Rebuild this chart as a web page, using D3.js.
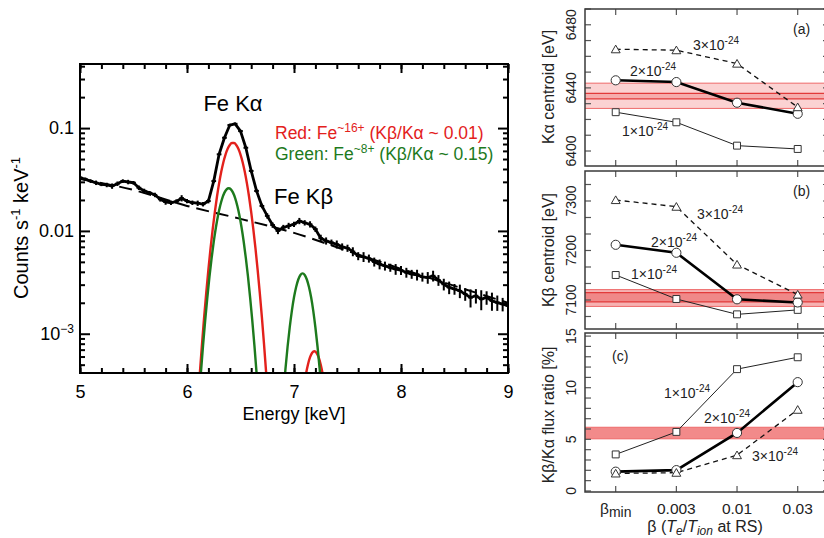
<!DOCTYPE html>
<html><head><meta charset="utf-8">
<script src="https://cdn.jsdelivr.net/npm/d3@7"></script>
<style>body{margin:0;background:#fff} svg{display:block} text{font-family:"Liberation Sans",Arial,Helvetica,sans-serif}</style>
</head><body><svg id="c" width="824" height="538"></svg>
<script>
// ---------- data: spectrum (left panel) ----------
const specE = [5.00,5.05,5.10,5.15,5.20,5.25,5.30,5.35,5.40,5.45,5.50,5.55,5.60,5.65,5.70,5.75,5.80,5.85,5.90,5.95,
  6.00,6.05,6.10,6.15,6.20,6.25,6.30,6.35,6.40,6.45,6.50,6.55,6.60,6.65,6.70,6.75,6.80,6.85,6.90,6.95,
  7.00,7.05,7.10,7.15,7.20,7.25,7.30,7.35,7.40,7.45,7.50,7.55,7.60,7.65,7.70,7.75,7.80,7.85,7.90,7.95,
  8.00,8.05,8.10,8.15,8.20,8.25,8.30,8.35,8.40,8.45,8.50,8.55,8.60,8.65,8.70,8.75,8.80,8.85,8.90,8.95,9.00];
const specVal = [0.0330,0.0318,0.0305,0.0294,0.0284,0.0280,0.0273,0.0288,0.0305,0.0299,0.0294,0.0263,0.0245,0.0235,0.0224,0.0203,0.0191,0.0188,0.0193,0.0208,
  0.0195,0.0188,0.0186,0.0182,0.0195,0.0305,0.0556,0.0805,0.107,0.110,0.0935,0.0644,0.0383,0.0245,0.0175,0.0140,0.0114,0.0100,0.0108,0.0112,
  0.0116,0.0125,0.0120,0.0116,0.0104,0.0085,0.0080,0.0077,0.0074,0.0070,0.0068,0.0063,0.0057,0.0056,0.0054,0.0050,0.00475,0.00457,0.00440,0.00425,
  0.00415,0.00394,0.00380,0.00374,0.00357,0.00352,0.00366,0.00332,0.00303,0.00282,0.00272,0.00261,0.00243,0.00225,0.00234,0.00217,0.00225,0.00209,0.00201,0.00194,0.00187];
const specErr = [0.05,0.04,0.04,0.05,0.04,0.05,0.06,0.05,0.04,0.05,0.04,0.05,0.05,0.04,0.05,0.05,0.06,0.05,0.05,0.07,0.05,0.05,0.06,0.05,0.05,
  0.04,0.03,0.03,0.03,0.03,0.03,0.03,0.04,0.04,0.05,0.06,0.06,
  0.07,0.06,0.07,0.06,0.07,0.06,0.07,0.06,0.08,0.08,0.07,0.09,0.08,0.08,
  0.10,0.09,0.11,0.09,0.10,0.11,0.10,0.09,0.12,0.10,0.11,0.10,0.12,0.10,0.13,0.12,
  0.12,0.13,0.14,0.12,0.15,0.14,0.20,0.16,0.22,0.15,0.20,0.17,0.15,0.16];
const contE = [5.0,5.5,6.0,6.5,7.0,7.5,8.0,8.5,9.0];
const contVal = [0.0320,0.0250,0.0175,0.0131,0.00957,0.00640,0.00428,0.00292,0.00200];
const redKaE = [6.10,6.12,6.14,6.16,6.18,6.20,6.22,6.24,6.26,6.28,6.30,6.32,6.34,6.36,6.38,6.40,6.42,6.44,6.46,6.48,6.50,6.52,6.54,6.56,6.58,6.60,6.62,6.64,6.66,6.68,6.70,6.72,6.74,6.76];
const redKaVal = [2.08e-4,4.14e-4,7.88e-4,1.44e-3,2.51e-3,4.21e-3,6.75e-3,0.01036,0.01525,0.0215,0.0290,0.0376,0.0466,0.0553,0.0629,0.0686,0.0716,
  0.0716,0.0686,0.0629,0.0553,0.0466,0.0376,0.0290,0.0215,0.01525,0.01036,6.75e-3,4.21e-3,2.51e-3,1.44e-3,7.88e-4,4.14e-4,2.08e-4];
const greenKaE = [6.09,6.11,6.13,6.15,6.17,6.19,6.21,6.23,6.25,6.27,6.29,6.31,6.33,6.35,6.37,6.39,6.41,6.43,6.45,6.47,6.49,6.51,6.53,6.55,6.57,6.59,6.61,6.63,6.65,6.67,6.69];
const greenKaVal = [1.06e-4,2.15e-4,4.17e-4,7.69e-4,1.35e-3,2.25e-3,3.59e-3,5.43e-3,7.85e-3,0.01078,0.01411,0.01758,0.02087,0.02358,0.02537,0.0260,
  0.02537,0.02358,0.02087,0.01758,0.01411,0.01078,7.85e-3,5.43e-3,3.59e-3,2.25e-3,1.35e-3,7.69e-4,4.17e-4,2.15e-4,1.06e-4];
const greenKbE = [6.88,6.90,6.92,6.94,6.96,6.98,7.00,7.02,7.04,7.06,7.08,7.10,7.12,7.14,7.16,7.18,7.20,7.22,7.24,7.26,7.28];
const greenKbVal = [1.35e-4,2.56e-4,4.52e-4,7.47e-4,1.15e-3,1.67e-3,2.26e-3,2.85e-3,3.37e-3,3.73e-3,3.86e-3,3.73e-3,3.37e-3,2.85e-3,2.26e-3,1.67e-3,1.15e-3,7.47e-4,4.52e-4,2.56e-4,1.35e-4];
const redKbE = [7.07,7.09,7.11,7.13,7.15,7.17,7.19,7.21,7.23,7.25,7.27,7.29,7.31];
const redKbVal = [2.02e-4,2.93e-4,3.96e-4,5.00e-4,5.91e-4,6.54e-4,6.76e-4,6.54e-4,5.91e-4,5.00e-4,3.96e-4,2.93e-4,2.02e-4];
const xTickLabels = [5,6,7,8,9];
const yTickLabels = [1e-3,1e-2,1e-1];

// ---------- data: right panels ----------
const betaCats = ["βmin","0.003","0.01","0.03"];
const seriesNames = ["1×10-24","2×10-24","3×10-24"];
const kaCent1 = [6424.6,6418.2,6403.4,6401.3];
const kaCent2 = [6444.8,6443.7,6430.6,6423.6];
const kaCent3 = [6464.5,6463.9,6455.4,6427.8];
const kaBandOuter = [6427,6443];
const kaBandInner = [6433,6436.5];
const kbCent1 = [7150.5,7102,7071,7080];
const kbCent2 = [7211.5,7195.4,7101.4,7095];
const kbCent3 = [7302,7288.5,7171.7,7111];
const kbBandOuter = [7087,7121];
const kbBandInner = [7096,7115];
const ratio1 = [3.54,5.72,11.8,12.95];
const ratio2 = [1.87,2.02,5.62,10.54];
const ratio3 = [1.70,1.77,3.47,7.87];
const ratioBand = [5.05,6.17];
const kaTicks = [6400,6440,6480];
const kbTicks = [7100,7200,7300];
const ratioTicks = [0,5,10,15];

const svg = d3.select("#c");
const FONT = '"Liberation Sans",Arial,Helvetica,sans-serif';

// ================= LEFT PANEL =================
const L = {x0:80,x1:508,y0:64,y1:373};
const x = d3.scaleLinear().domain([5,9]).range([L.x0,L.x1]);
const y = d3.scaleLog().domain([4.15e-4,0.42]).range([L.y1,L.y0]);
svg.append("clipPath").attr("id","clipL").append("rect")
  .attr("x",L.x0).attr("y",L.y0).attr("width",L.x1-L.x0).attr("height",L.y1-L.y0);
const gL = svg.append("g").attr("clip-path","url(#clipL)");
const line = d3.line().x(d=>x(d[0])).y(d=>y(d[1]));

const spec = specE.map((e,i)=>[e,specVal[i],specErr[i]]);
// dashed continuum
gL.append("path").datum(contE.map((e,i)=>[e,contVal[i]])).attr("d",line.curve(d3.curveMonotoneX))
  .attr("fill","none").attr("stroke","#000").attr("stroke-width",2).attr("stroke-dasharray","13,7");
line.curve(d3.curveLinear);
// data
gL.append("path").datum(spec).attr("d",line).attr("fill","none").attr("stroke","#000").attr("stroke-width",2.8).attr("stroke-linejoin","round");
gL.selectAll("line.eb").data(spec).join("line").attr("class","eb")
  .attr("x1",d=>x(d[0])).attr("x2",d=>x(d[0]))
  .attr("y1",d=>y(d[1]*(1+d[2]))).attr("y2",d=>y(d[1]*(1-d[2])))
  .attr("stroke","#000").attr("stroke-width",2);
gL.selectAll("line.hb").data(spec).join("line").attr("class","hb")
  .attr("x1",d=>x(d[0]-0.022)).attr("x2",d=>x(d[0]+0.022))
  .attr("y1",d=>y(d[1])).attr("y2",d=>y(d[1]))
  .attr("stroke","#000").attr("stroke-width",2);
// model lines
const RED = "#e3211c", GREEN = "#1d7a1d";
[[redKaE,redKaVal,RED],[redKbE,redKbVal,RED],[greenKaE,greenKaVal,GREEN],[greenKbE,greenKbVal,GREEN]].forEach(([E,V,c])=>{
  gL.append("path").datum(E.map((e,i)=>[e,V[i]])).attr("d",line.curve(d3.curveMonotoneX))
    .attr("fill","none").attr("stroke",c).attr("stroke-width",2.4);
});

// ticks
function styleAxis(g, sw, fs){
  g.select(".domain").remove();
  g.selectAll(".tick line").attr("stroke","#000").attr("stroke-width",sw);
  g.attr("font-family",FONT).attr("font-size",fs);
  g.selectAll(".tick text").attr("fill","#000");
}
const xMinor = d3.range(0,21).map(i=>5+i*0.2);
const yMinor = [];
[1e-4,1e-3,1e-2,1e-1].forEach(d=>{for(let k=2;k<=9;k++){const v=k*d; if(v>4.15e-4 && v<0.42) yMinor.push(v);}});
const gxb = svg.append("g").attr("transform",`translate(0,${L.y1})`);
gxb.call(d3.axisBottom(x).tickValues(xMinor).tickSize(-5).tickFormat(""));
styleAxis(gxb,2,18);
const gxb2 = svg.append("g").attr("transform",`translate(0,${L.y1})`);
gxb2.call(d3.axisBottom(x).tickValues(xTickLabels).tickSize(-9).tickPadding(12).tickFormat(d3.format("d")));
styleAxis(gxb2,2,18);
const gxt = svg.append("g").attr("transform",`translate(0,${L.y0})`);
gxt.call(d3.axisTop(x).tickValues(xMinor).tickSize(-5).tickFormat(""));
styleAxis(gxt,2,18);
const gxt2 = svg.append("g").attr("transform",`translate(0,${L.y0})`);
gxt2.call(d3.axisTop(x).tickValues(xTickLabels).tickSize(-9).tickFormat(""));
styleAxis(gxt2,2,18);
const gyl = svg.append("g").attr("transform",`translate(${L.x0},0)`);
gyl.call(d3.axisLeft(y).tickValues(yMinor).tickSize(-5).tickFormat(""));
styleAxis(gyl,2,18);
const gyl2 = svg.append("g").attr("transform",`translate(${L.x0},0)`);
gyl2.call(d3.axisLeft(y).tickValues(yTickLabels).tickSize(-10).tickPadding(6).tickFormat(d=> d===1e-3 ? "" : (d===1e-2?"0.01":"0.1")));
styleAxis(gyl2,2,18);
gyl2.selectAll(".tick text").each(function(d){
  if(d===1e-3){
    const t = d3.select(this);
    t.append("tspan").text("10");
    t.append("tspan").attr("dy","-7").attr("font-size",12).text("−3");
  }
});
const gyr = svg.append("g").attr("transform",`translate(${L.x1},0)`);
gyr.call(d3.axisRight(y).tickValues(yMinor).tickSize(-5).tickFormat(""));
styleAxis(gyr,2,18);
const gyr2 = svg.append("g").attr("transform",`translate(${L.x1},0)`);
gyr2.call(d3.axisRight(y).tickValues(yTickLabels).tickSize(-10).tickFormat(""));
styleAxis(gyr2,2,18);
svg.append("rect").attr("x",L.x0).attr("y",L.y0).attr("width",L.x1-L.x0).attr("height",L.y1-L.y0)
  .attr("fill","none").attr("stroke","#000").attr("stroke-width",2);

// texts
svg.append("text").attr("x",294).attr("y",420).attr("text-anchor","middle").attr("font-size",18).text("Energy [keV]");
const yt = svg.append("text").attr("transform","translate(28,228) rotate(-90)").attr("text-anchor","middle").attr("font-size",20);
yt.append("tspan").text("Counts s");
yt.append("tspan").attr("dy",-8).attr("font-size",13).text("-1");
yt.append("tspan").attr("dy",8).text(" keV");
yt.append("tspan").attr("dy",-8).attr("font-size",13).text("-1");
svg.append("text").attr("x",233).attr("y",111).attr("text-anchor","middle").attr("font-size",22).text("Fe Kα");
svg.append("text").attr("x",274).attr("y",204).attr("font-size",22).text("Fe Kβ");
function legend(yb, col, lab, ion, ratio){
  const t = svg.append("text").attr("x",275).attr("y",yb).attr("font-size",17.5).attr("fill",col);
  t.append("tspan").text(lab+": Fe");
  t.append("tspan").attr("dy",-7).attr("font-size",12).text(ion);
  t.append("tspan").attr("dy",7).text(" (Kβ/Kα ~ "+ratio+")");
}
legend(139,RED,"Red","~16+","0.01");
legend(160,GREEN,"Green","~8+","0.15");

// ================= RIGHT PANELS =================
const R = {x0:585,x1:829};
const xb = d3.scalePoint().domain(betaCats).range([615.7,797.7]);
const panels = [
  {id:"a",y0:9,y1:166,domain:[6390.5,6490],labels:kaTicks,minor:d3.range(6390,6491,10),
   s:[kaCent1,kaCent2,kaCent3],outer:kaBandOuter,inner:kaBandInner,
   outerFill:"#fbd2d2",innerFill:"#f6adad",title:"Kα centroid [eV]",tcy:87,
   tag:"(a)",tagPos:[793,34],ann:[[622,136],[630,76],[693,50]]},
  {id:"b",y0:171,y1:329,domain:[7041.4,7360.6],labels:kbTicks,minor:d3.range(0,10).map(i=>7066.67+i*33.333),
   s:[kbCent1,kbCent2,kbCent3],outer:kbBandOuter,inner:kbBandInner,
   outerFill:"#f6b2b2",innerFill:"#f08888",title:"Kβ centroid [eV]",tcy:250,
   tag:"(b)",tagPos:[793,196],ann:[[631,279],[651,247],[697,219]]},
  {id:"c",y0:333,y1:492,domain:[-0.1,15.3],labels:ratioTicks,minor:d3.range(0,16,1),
   s:[ratio1,ratio2,ratio3],outer:ratioBand,inner:null,
   outerFill:"#f28a8a",innerFill:null,title:"Kβ/Kα flux ratio [%]",tcy:415,
   tag:"(c)",tagPos:[612,361],ann:[[664,398],[704,423],[752,461]]}
];
const styles = [
  {w:1,dash:null,col:"#222",mk:"square"},
  {w:2.6,dash:null,col:"#000",mk:"circle"},
  {w:1.3,dash:"5,4",col:"#111",mk:"triangle"}
];
const sym = {square:d3.symbol(d3.symbolSquare,48), circle:d3.symbol(d3.symbolCircle,66), triangle:d3.symbol(d3.symbolTriangle,34)};
panels.forEach(p=>{
  const yS = d3.scaleLinear().domain(p.domain).range([p.y1,p.y0]);
  svg.append("clipPath").attr("id","clip"+p.id).append("rect")
    .attr("x",R.x0).attr("y",p.y0).attr("width",R.x1-R.x0).attr("height",p.y1-p.y0);
  const g = svg.append("g").attr("clip-path",`url(#clip${p.id})`);
  const band = (rng, fill, stroke, sw)=>{
    g.append("rect").attr("x",R.x0).attr("width",R.x1-R.x0).attr("y",yS(rng[1])).attr("height",yS(rng[0])-yS(rng[1])).attr("fill",fill);
    rng.forEach(v=>g.append("line").attr("x1",R.x0).attr("x2",R.x1).attr("y1",yS(v)).attr("y2",yS(v)).attr("stroke",stroke).attr("stroke-width",sw));
  };
  band(p.outer,p.outerFill,"#ee6a6a",1);
  if(p.inner) band(p.inner,p.innerFill,"#e23a3a",1.3);
  p.s.forEach((vals,i)=>{
    const st = styles[i];
    const pts = vals.map((v,j)=>[xb(betaCats[j]),yS(v)]);
    const path = g.append("path").datum(pts).attr("d",d3.line()).attr("fill","none").attr("stroke",st.col).attr("stroke-width",st.w);
    if(st.dash) path.attr("stroke-dasharray",st.dash);
  });
  p.s.forEach((vals,i)=>{
    const st = styles[i];
    g.selectAll(null).data(vals).join("path")
      .attr("transform",(v,j)=>`translate(${xb(betaCats[j])},${yS(v)+(st.mk==="triangle"?1:0)})`)
      .attr("d",sym[st.mk]).attr("fill","#fff").attr("stroke","#333").attr("stroke-width",1);
  });
  const tk = svg.append("g").attr("stroke","#555").attr("stroke-width",1.2);
  p.minor.forEach(v=>{
    if(v<p.domain[0]||v>p.domain[1]) return;
    const yy = yS(v);
    tk.append("line").attr("x1",R.x0).attr("x2",R.x0+6).attr("y1",yy).attr("y2",yy);
    tk.append("line").attr("x1",R.x1-6).attr("x2",R.x1).attr("y1",yy).attr("y2",yy);
  });
  betaCats.forEach(c=>{
    const xx = xb(c);
    tk.append("line").attr("x1",xx).attr("x2",xx).attr("y1",p.y0).attr("y2",p.y0+6);
    tk.append("line").attr("x1",xx).attr("x2",xx).attr("y1",p.y1).attr("y2",p.y1-6);
  });
  svg.append("rect").attr("x",R.x0).attr("y",p.y0).attr("width",R.x1-R.x0).attr("height",p.y1-p.y0)
    .attr("fill","none").attr("stroke","#3a3a3a").attr("stroke-width",1.5);
  p.labels.forEach(v=>{
    svg.append("text").attr("transform",`translate(576,${yS(v)}) rotate(-90)`).attr("text-anchor","middle")
      .attr("font-size",14).attr("fill","#222").text(v);
  });
  svg.append("text").attr("transform",`translate(554,${p.tcy}) rotate(-90)`).attr("text-anchor","middle")
    .attr("font-size",16).attr("fill","#222").text(p.title);
  svg.append("text").attr("x",p.tagPos[0]).attr("y",p.tagPos[1]).attr("font-size",14).attr("fill","#222").text(p.tag);
  p.ann.forEach((pos,i)=>{
    const t = svg.append("text").attr("x",pos[0]).attr("y",pos[1]).attr("font-size",14).attr("fill","#222");
    const parts = seriesNames[i].split("-");
    t.append("tspan").text(parts[0]);
    t.append("tspan").attr("dy",-6).attr("font-size",10).text("-"+parts[1]);
  });
});
betaCats.forEach(c=>{
  const t = svg.append("text").attr("x",xb(c)).attr("y",514).attr("text-anchor","middle").attr("font-size",15.5).attr("fill","#222");
  if(c==="βmin"){ t.append("tspan").text("β"); t.append("tspan").attr("dy",3).attr("font-size",14).text("min"); }
  else t.text(c);
});
const bt = svg.append("text").attr("x",705).attr("y",532).attr("text-anchor","middle").attr("font-size",16).attr("fill","#222");
bt.append("tspan").text("β (");
bt.append("tspan").attr("font-style","italic").text("T");
bt.append("tspan").attr("font-style","italic").attr("font-size",12).attr("dy",3).text("e");
bt.append("tspan").attr("dy",-3).text("/");
bt.append("tspan").attr("font-style","italic").text("T");
bt.append("tspan").attr("font-style","italic").attr("font-size",12).attr("dy",3).text("ion");
bt.append("tspan").attr("dy",-3).text(" at RS)");
</script></body></html>
